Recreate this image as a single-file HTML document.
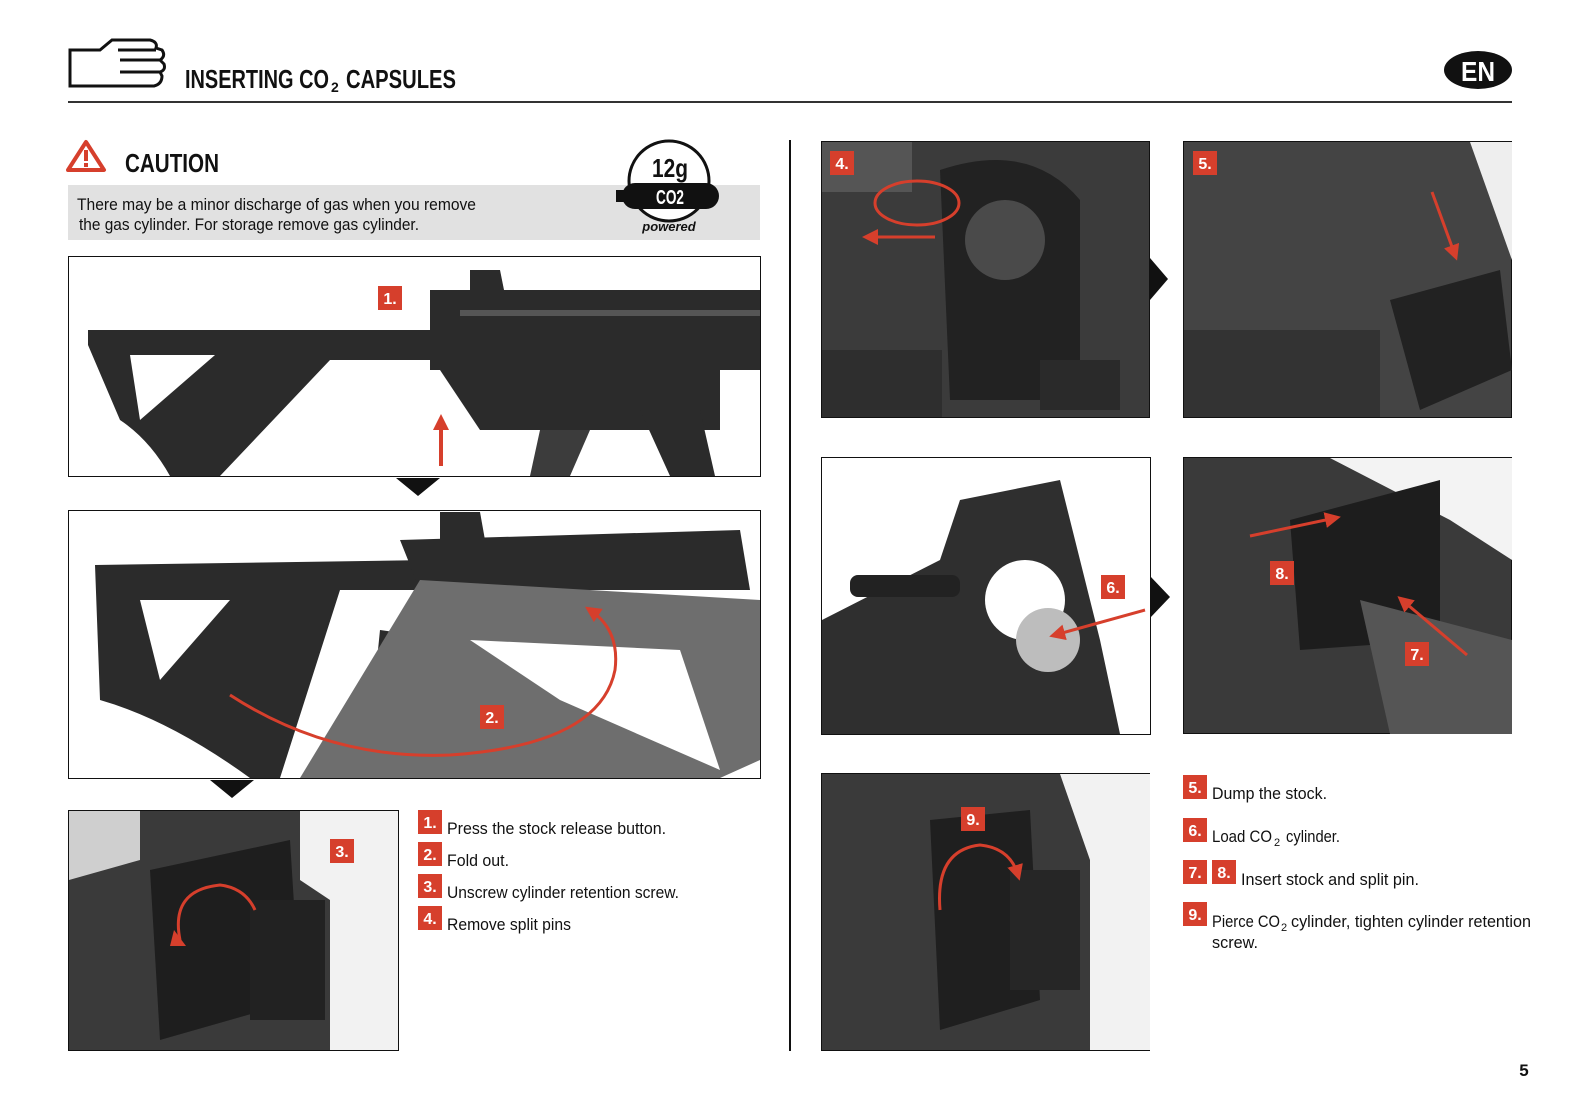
<!DOCTYPE html>
<html><head><meta charset="utf-8"><style>
html,body{margin:0;padding:0;background:#fff;}
svg{display:block;}
text{font-family:"Liberation Sans Narrow","Liberation Sans",sans-serif;}
</style></head><body>
<svg width="1574" height="1096" viewBox="0 0 1574 1096" xmlns="http://www.w3.org/2000/svg">
<defs>
<marker id="ah2" markerWidth="16" markerHeight="16" refX="10" refY="8" orient="auto" markerUnits="userSpaceOnUse"><path d="M0,0 L16,8 L0,16 z" fill="#d63f2c"/></marker>
</defs>
<!-- header -->
<g fill="none" stroke="#111" stroke-width="3">
<path d="M70,50 L100,50 L112,40 L150,40 Q158,42 156,48 L162,50 Q166,56 160,60 L164,64 Q166,70 160,72 L162,76 Q162,84 154,86 L70,86 Z"/>
<path d="M118,50 L156,50 M120,60 L162,60 M120,72 L160,72"/>
</g>
<text x="185" y="88" font-size="26" font-weight="bold" fill="#111" textLength="144" lengthAdjust="spacingAndGlyphs">INSERTING CO</text>
<text x="331" y="92" font-size="14" font-weight="bold" fill="#111">2</text>
<text x="346" y="88" font-size="26" font-weight="bold" fill="#111" textLength="110" lengthAdjust="spacingAndGlyphs">CAPSULES</text>
<rect x="68" y="101" width="1444" height="2" fill="#333"/>
<ellipse cx="1478" cy="70" rx="34" ry="19" fill="#111"/>
<text x="1478" y="81" font-size="28" font-weight="bold" fill="#fff" text-anchor="middle" textLength="34" lengthAdjust="spacingAndGlyphs">EN</text>

<!-- caution -->
<path d="M86,142 L104,170 L68,170 Z" fill="none" stroke="#d63f2c" stroke-width="4" stroke-linejoin="round"/>
<rect x="84" y="150" width="4" height="11" fill="#d63f2c"/><rect x="84" y="163" width="4" height="4" fill="#d63f2c"/>
<text x="125" y="172" font-size="26" font-weight="bold" fill="#111" textLength="94" lengthAdjust="spacingAndGlyphs">CAUTION</text>
<rect x="68" y="185" width="692" height="55" fill="#e1e1e1"/>
<text x="77" y="210" font-size="17" fill="#111" textLength="399" lengthAdjust="spacingAndGlyphs">There may be a minor discharge of gas when you remove</text>
<text x="79" y="230" font-size="17" fill="#111" textLength="340" lengthAdjust="spacingAndGlyphs">the gas cylinder. For storage remove gas cylinder.</text>
<!-- CO2 badge -->
<circle cx="669" cy="181" r="40" fill="#fff" stroke="#111" stroke-width="3"/>
<rect x="622" y="183" width="97" height="26" rx="13" fill="#111"/>
<rect x="616" y="190" width="10" height="12" fill="#111"/>
<text x="670" y="177" font-size="26" font-weight="bold" fill="#111" text-anchor="middle" textLength="36" lengthAdjust="spacingAndGlyphs">12g</text>
<text x="670" y="204" font-size="20" font-weight="bold" fill="#fff" text-anchor="middle" textLength="28" lengthAdjust="spacingAndGlyphs">CO2</text>
<text x="669" y="231" font-size="13" font-weight="bold" fill="#111" text-anchor="middle" font-style="italic">powered</text>

<!-- photo 1 -->
<rect x="68.5" y="256.5" width="692" height="220" fill="#fff" stroke="#111"/>
<g fill="#2b2b2b">
<path d="M88,330 L430,330 L430,360 L330,360 L220,476 L170,476 Q150,440 120,420 L88,345 Z"/>
<path d="M130,355 L215,355 L140,420 Z" fill="#fff"/>
<rect x="430" y="290" width="330" height="80"/>
<path d="M440,370 L720,370 L720,430 L480,430 L460,400 Z"/>
<path d="M640,410 L700,410 L715,476 L670,476 Z"/>
<path d="M470,270 L500,270 L505,295 L470,295 Z"/>
<path d="M540,430 L590,430 L570,476 L530,476 Z" fill="#3c3c3c"/>
</g>
<rect x="460" y="310" width="300" height="6" fill="#555"/>
<line x1="441" y1="466" x2="441" y2="420" stroke="#d63f2c" stroke-width="4" marker-end="url(#ah2)"/>
<path d="M396,478 L440,478 L418,496 Z" fill="#111"/>

<!-- photo 2 -->
<rect x="68.5" y="510.5" width="692" height="268" fill="#fff" stroke="#111"/>
<g fill="#2b2b2b">
<path d="M95,565 L430,560 L430,590 L340,590 L280,778 L250,778 Q170,720 100,700 Z"/>
<path d="M140,600 L230,600 L160,680 Z" fill="#fff"/>
<path d="M400,540 L740,530 L750,590 L420,590 Z"/>
<path d="M440,512 L480,512 L485,540 L440,540 Z"/>
<path d="M380,630 L450,640 L430,740 L370,730 Z"/>
</g>
<path d="M300,778 L420,580 L760,600 L760,760 L720,778 Z" fill="#6e6e6e"/>
<path d="M470,640 L680,650 L720,770 L560,700 Z" fill="#fff"/>
<path d="M230,695 Q330,760 450,755 Q600,745 615,670 Q620,630 590,610" fill="none" stroke="#d63f2c" stroke-width="3" marker-end="url(#ah2)"/>
<path d="M210,780 L254,780 L232,798 Z" fill="#111"/>

<!-- photo 3 -->
<rect x="68.5" y="810.5" width="330" height="240" fill="#3a3a3a" stroke="#111"/>
<path d="M69,811 L140,811 L140,860 L69,880 Z" fill="#cfcfcf"/>
<path d="M300,811 L398,811 L398,1050 L330,1050 L330,900 L300,880 Z" fill="#f2f2f2"/>
<path d="M150,870 L290,840 L300,1000 L160,1040 Z" fill="#1e1e1e"/>
<rect x="250" y="900" width="75" height="120" fill="#222"/>
<path d="M180,940 Q170,890 220,885 Q245,888 255,910" fill="none" stroke="#d63f2c" stroke-width="3"/>
<path d="M174,930 L186,946 L170,946 Z" fill="#d63f2c"/>

<!-- instructions left -->
<g font-size="17" fill="#111">
<text x="447" y="834" textLength="219" lengthAdjust="spacingAndGlyphs">Press the stock release button.</text>
<text x="447" y="866" textLength="62" lengthAdjust="spacingAndGlyphs">Fold out.</text>
<text x="447" y="898" textLength="232" lengthAdjust="spacingAndGlyphs">Unscrew cylinder retention screw.</text>
<text x="447" y="930" textLength="124" lengthAdjust="spacingAndGlyphs">Remove split pins</text>
</g>

<rect x="789" y="140" width="2" height="911" fill="#111"/>

<!-- photo 4 -->
<rect x="821.5" y="141.5" width="328" height="276" fill="#3b3b3b" stroke="#111"/>
<rect x="822" y="142" width="90" height="50" fill="#555"/>
<path d="M940,170 Q1030,140 1080,200 L1080,400 L950,400 Z" fill="#222"/>
<circle cx="1005" cy="240" r="40" fill="#4a4a4a"/>
<rect x="1040" y="360" width="80" height="50" fill="#2a2a2a"/>
<rect x="822" y="350" width="120" height="67" fill="#2e2e2e"/>
<ellipse cx="917" cy="203" rx="42" ry="22" fill="none" stroke="#d63f2c" stroke-width="3"/>
<line x1="935" y1="237" x2="868" y2="237" stroke="#d63f2c" stroke-width="3" marker-end="url(#ah2)"/>
<path d="M1150,258 L1168,279 L1150,300 Z" fill="#111"/>

<!-- photo 5 -->
<rect x="1183.5" y="141.5" width="328" height="276" fill="#444" stroke="#111"/>
<path d="M1470,142 L1512,142 L1512,260 Z" fill="#eee"/>
<path d="M1184,330 L1380,330 L1380,417 L1184,417 Z" fill="#333"/>
<path d="M1390,300 L1500,270 L1512,370 L1420,410 Z" fill="#222"/>
<line x1="1432" y1="192" x2="1455" y2="255" stroke="#d63f2c" stroke-width="3" marker-end="url(#ah2)"/>

<!-- photo 6 -->
<rect x="821.5" y="457.5" width="329" height="277" fill="#fff" stroke="#111"/>
<path d="M822,620 L940,560 L960,500 L1060,480 L1100,640 L1120,734 L822,734 Z" fill="#2f2f2f"/>
<circle cx="1025" cy="600" r="40" fill="#fff"/>
<circle cx="1048" cy="640" r="32" fill="#bdbdbd"/>
<rect x="850" y="575" width="110" height="22" rx="8" fill="#222"/>
<line x1="1145" y1="610" x2="1055" y2="635" stroke="#d63f2c" stroke-width="3" marker-end="url(#ah2)"/>
<path d="M1150,576 L1170,597 L1150,618 Z" fill="#111"/>

<!-- photo 7/8 -->
<rect x="1183.5" y="457.5" width="328" height="276" fill="#3a3a3a" stroke="#111"/>
<path d="M1330,458 L1512,458 L1512,560 L1450,520 Z" fill="#f3f3f3"/>
<path d="M1290,520 L1440,480 L1440,640 L1300,650 Z" fill="#1d1d1d"/>
<path d="M1360,600 L1512,640 L1512,734 L1390,734 Z" fill="#555"/>
<line x1="1250" y1="536" x2="1335" y2="518" stroke="#d63f2c" stroke-width="3" marker-end="url(#ah2)"/>
<line x1="1467" y1="655" x2="1402" y2="600" stroke="#d63f2c" stroke-width="3" marker-end="url(#ah2)"/>

<!-- photo 9 -->
<rect x="821.5" y="773.5" width="328" height="277" fill="#3a3a3a" stroke="#111"/>
<path d="M1060,774 L1150,774 L1150,1050 L1090,1050 L1090,860 Z" fill="#f2f2f2"/>
<path d="M930,820 L1030,810 L1040,1000 L940,1030 Z" fill="#1f1f1f"/>
<rect x="1010" y="870" width="70" height="120" fill="#262626"/>
<path d="M940,910 Q935,850 980,845 Q1010,848 1018,875" fill="none" stroke="#d63f2c" stroke-width="3" marker-end="url(#ah2)"/>

<!-- instructions right -->
<g font-size="17" fill="#111">
<text x="1212" y="799" textLength="115" lengthAdjust="spacingAndGlyphs">Dump the stock.</text>
<text x="1212" y="842" textLength="60" lengthAdjust="spacingAndGlyphs">Load CO</text>
<text x="1274" y="846" font-size="11">2</text>
<text x="1286" y="842" textLength="54" lengthAdjust="spacingAndGlyphs">cylinder.</text>
<text x="1241" y="885" textLength="178" lengthAdjust="spacingAndGlyphs">Insert stock and split pin.</text>
<text x="1212" y="927" textLength="68" lengthAdjust="spacingAndGlyphs">Pierce CO</text>
<text x="1281" y="931" font-size="11">2</text>
<text x="1291" y="927" textLength="240" lengthAdjust="spacingAndGlyphs">cylinder, tighten cylinder retention</text>
<text x="1212" y="948" textLength="46" lengthAdjust="spacingAndGlyphs">screw.</text>
</g>

<!-- red labels -->
<g font-size="16" font-weight="bold" fill="#fff" text-anchor="middle">
<rect x="378" y="286" width="24" height="24" fill="#d63f2c"/><text x="390" y="304">1.</text>
<rect x="480" y="705" width="24" height="24" fill="#d63f2c"/><text x="492" y="723">2.</text>
<rect x="330" y="839" width="24" height="24" fill="#d63f2c"/><text x="342" y="857">3.</text>
<rect x="830" y="151" width="24" height="24" fill="#d63f2c"/><text x="842" y="169">4.</text>
<rect x="1193" y="151" width="24" height="24" fill="#d63f2c"/><text x="1205" y="169">5.</text>
<rect x="1101" y="575" width="24" height="24" fill="#d63f2c"/><text x="1113" y="593">6.</text>
<rect x="1405" y="642" width="24" height="24" fill="#d63f2c"/><text x="1417" y="660">7.</text>
<rect x="1270" y="561" width="24" height="24" fill="#d63f2c"/><text x="1282" y="579">8.</text>
<rect x="961" y="807" width="24" height="24" fill="#d63f2c"/><text x="973" y="825">9.</text>
<rect x="418" y="810" width="24" height="24" fill="#d63f2c"/><text x="430" y="828">1.</text>
<rect x="418" y="842" width="24" height="24" fill="#d63f2c"/><text x="430" y="860">2.</text>
<rect x="418" y="874" width="24" height="24" fill="#d63f2c"/><text x="430" y="892">3.</text>
<rect x="418" y="906" width="24" height="24" fill="#d63f2c"/><text x="430" y="924">4.</text>
<rect x="1183" y="775" width="24" height="24" fill="#d63f2c"/><text x="1195" y="793">5.</text>
<rect x="1183" y="818" width="24" height="24" fill="#d63f2c"/><text x="1195" y="836">6.</text>
<rect x="1183" y="860" width="24" height="24" fill="#d63f2c"/><text x="1195" y="878">7.</text>
<rect x="1212" y="860" width="24" height="24" fill="#d63f2c"/><text x="1224" y="878">8.</text>
<rect x="1183" y="902" width="24" height="24" fill="#d63f2c"/><text x="1195" y="920">9.</text>
</g>
<text x="1524" y="1076" font-size="17" font-weight="bold" fill="#111" text-anchor="middle">5</text>
</svg>
</body></html>
